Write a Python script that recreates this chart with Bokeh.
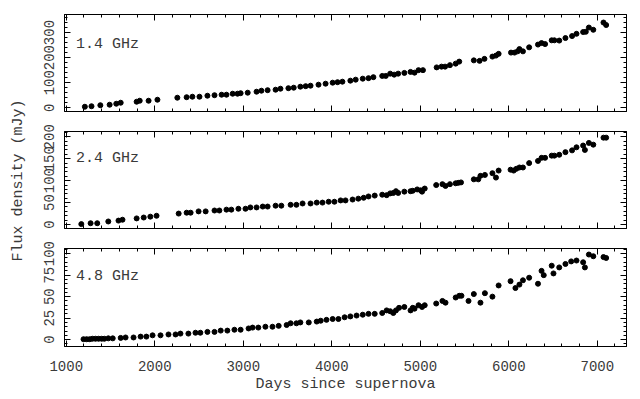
import math
from bokeh.plotting import figure
from bokeh.layouts import column, row
from bokeh.models import Range1d, LinearAxis, SingleIntervalTicker, Label
from bokeh.embed import file_html
from bokeh.resources import INLINE

# ---- data (days since supernova, flux density in mJy) ----
days_14 = [1210, 1285, 1385, 1490, 1565, 1615, 1795, 1830, 1930, 2030,
           2255, 2360, 2425, 2505, 2595, 2675, 2755, 2810, 2880, 2935,
           2970, 3050, 3150, 3205, 3275, 3365, 3420, 3510, 3570, 3645,
           3705, 3760, 3850, 3930, 4010, 4065, 4120, 4210, 4270, 4350,
           4415, 4470, 4570, 4610, 4660, 4705, 4750, 4820, 4890, 4935,
           4980, 5030, 5185, 5240, 5280, 5335, 5400, 5440, 5605, 5670,
           5725, 5815, 5855, 5885, 6025, 6065, 6100, 6120, 6160, 6230,
           6330, 6370, 6410, 6485, 6515, 6570, 6640, 6715, 6765, 6840,
           6870, 6905, 6955, 7070, 7100]
flux_14 = [4, 6, 10, 12, 16, 20, 24, 28, 28, 32,
           40, 42, 44, 44, 48, 50, 52, 52, 56, 56,
           58, 60, 64, 68, 70, 72, 76, 78, 80, 84,
           86, 88, 92, 96, 100, 102, 104, 108, 112, 116,
           118, 122, 127, 127, 136, 132, 136, 139, 143, 140,
           150, 150, 161, 164, 164, 170, 176, 184, 189, 187,
           195, 204, 208, 215, 220, 220, 225, 234, 225, 241,
           252, 258, 254, 269, 269, 268, 278, 286, 295, 302,
           303, 320, 311, 340, 330]

days_24 = [1170, 1275, 1350, 1475, 1590, 1635, 1795, 1875, 1950, 2020,
           2270, 2360, 2405, 2495, 2575, 2675, 2730, 2810, 2865, 2945,
           3025, 3080, 3150, 3220, 3275, 3365, 3430, 3535, 3600, 3670,
           3760, 3830, 3895, 3965, 4030, 4100, 4155, 4235, 4300, 4360,
           4415, 4485, 4570, 4620, 4660, 4695, 4725, 4750, 4820, 4890,
           4915, 4965, 5005, 5020, 5050, 5180, 5250, 5285, 5335, 5400,
           5430, 5460, 5605, 5655, 5680, 5730, 5815, 5855, 5885, 6020,
           6055, 6085, 6120, 6160, 6230, 6330, 6370, 6410, 6485, 6515,
           6570, 6640, 6715, 6765, 6840, 6860, 6905, 6955, 7070, 7100]
flux_24 = [1, 3, 3, 7, 9, 11, 14, 16, 18, 20,
           25, 27, 27, 30, 30, 32, 32, 34, 34, 36,
           36, 39, 39, 41, 41, 43, 43, 45, 45, 48,
           48, 50, 50, 52, 52, 55, 55, 57, 59, 61,
           64, 66, 68, 67, 71, 72, 76, 72, 75, 76,
           77, 80, 78, 75, 82, 90, 92, 88, 92, 94,
           95, 96, 103, 103, 111, 113, 117, 107, 123, 125,
           123, 127, 130, 130, 140, 145, 152, 152, 157, 157,
           159, 165, 169, 176, 180, 170, 186, 182, 198, 198]

days_48 = [1195, 1230, 1265, 1295, 1330, 1365, 1400, 1430, 1475, 1525,
           1615, 1670, 1760, 1840, 1905, 1975, 2065, 2155, 2235, 2290,
           2380, 2460, 2515, 2595, 2675, 2745, 2820, 2900, 2970, 3060,
           3105, 3170, 3250, 3330, 3400, 3490, 3535, 3600, 3645, 3740,
           3830, 3875, 3940, 4010, 4075, 4145, 4210, 4280, 4350, 4415,
           4485, 4570, 4620, 4660, 4695, 4725, 4760, 4820, 4890, 4915,
           4935, 4980, 5020, 5050, 5180, 5250, 5285, 5400, 5440, 5465,
           5545, 5605, 5680, 5730, 5815, 5885, 6020, 6075, 6120, 6160,
           6230, 6330, 6370, 6395, 6485, 6505, 6570, 6640, 6705, 6765,
           6840, 6860, 6905, 6955, 7070, 7100]
flux_48 = [0.5, 0.5, 0.5, 1, 1, 1, 1, 1, 1.5, 1.5,
           2, 2.5, 2.5, 3.5, 3.5, 5, 5, 6, 6, 7,
           7, 8, 8, 9, 9, 10.5, 10.5, 11.5, 11.5, 13,
           14, 14, 15, 15, 16, 17, 19, 19, 20, 20,
           21, 22, 23, 24, 24, 26, 27, 28, 29, 30,
           30, 31, 34, 33, 31, 34, 37, 38, 34, 37,
           36, 40, 38, 40, 42, 45, 43, 49, 51, 51,
           45, 53, 43, 54, 50, 63, 68, 60, 64, 69,
           72, 65, 80, 75, 86, 77, 84, 88, 91, 92,
           90, 84, 99, 97, 96, 95]

panel_names = ["1.4 GHz", "2.4 GHz", "4.8 GHz"]
y_ticks_step = [100, 50, 25]
y_limits = [(-15, 372), (-9, 212), (-8, 106)]
label_y = [252, 150, 74]
x_title = "Days since supernova"
y_title = "Flux density (mJy)"

FONT = "Liberation Mono"
TXT = "#3a3a3a"


def style_axis(ax, show_labels, step):
    ax.axis_line_color = "black"
    ax.major_tick_line_color = "black"
    ax.minor_tick_line_color = "black"
    ax.major_tick_in = 6
    ax.major_tick_out = 0
    ax.minor_tick_in = 3
    ax.minor_tick_out = 0
    ax.ticker = SingleIntervalTicker(interval=step, num_minor_ticks=5)
    ax.major_label_text_font = FONT
    if show_labels:
        ax.major_label_text_font_size = "14px"
        ax.major_label_text_color = TXT
    else:
        ax.major_label_text_font_size = "1px"
        ax.major_label_text_color = None
        ax.major_label_text_alpha = 0
        ax.major_label_standoff = 0


def make_panel(i, xs, ys, bottom_labels):
    h = 97 if i < 2 else 98
    p = figure(frame_width=562, frame_height=h,
               x_range=Range1d(980, 7330), y_range=Range1d(*y_limits[i]),
               output_backend="svg", toolbar_location=None,
               x_axis_location=None, y_axis_location=None,
               min_border_left=30, min_border_right=12,
               min_border_top=14 if i == 0 else 10,
               min_border_bottom=52 if bottom_labels else 10)
    p.grid.visible = False
    p.outline_line_color = "black"
    p.outline_line_width = 1
    p.background_fill_color = "white"
    p.border_fill_color = "white"

    xb = LinearAxis()
    style_axis(xb, bottom_labels, 1000)
    if bottom_labels:
        xb.major_label_standoff = 14
        xb.axis_label = x_title
        xb.axis_label_text_font = FONT
        xb.axis_label_text_font_size = "15px"
        xb.axis_label_text_font_style = "normal"
        xb.axis_label_text_color = TXT
        xb.axis_label_standoff = 2
    p.add_layout(xb, "below")

    xt = LinearAxis()
    style_axis(xt, False, 1000)
    p.add_layout(xt, "above")

    yl = LinearAxis()
    style_axis(yl, True, y_ticks_step[i])
    yl.major_label_orientation = "vertical"
    yl.major_label_standoff = 10
    p.add_layout(yl, "left")

    yr = LinearAxis()
    style_axis(yr, False, y_ticks_step[i])
    p.add_layout(yr, "right")

    p.scatter(xs, ys, size=5, marker="circle", color="black")

    p.add_layout(Label(x=1110, y=label_y[i], text=panel_names[i],
                       text_font=FONT, text_font_size="15px",
                       text_color=TXT, text_baseline="middle"))
    return p


# narrow strip carrying the shared y-axis title
side = figure(frame_width=34, frame_height=360,
              x_range=Range1d(0, 1), y_range=Range1d(0, 1),
              output_backend="svg", toolbar_location=None,
              x_axis_location=None, y_axis_location=None,
              min_border=0)
side.grid.visible = False
side.outline_line_color = None
side.border_fill_color = "white"
side.add_layout(Label(x=0.53, y=0.5, text=y_title, angle=math.pi / 2,
                      text_font=FONT, text_font_size="15px",
                      text_color=TXT, text_align="center",
                      text_baseline="middle"))

p1 = make_panel(0, days_14, flux_14, False)
p2 = make_panel(1, days_24, flux_24, False)
p3 = make_panel(2, days_48, flux_48, True)

layout = row(side, column(p1, p2, p3, spacing=0), spacing=0)

open("out.html", "w").write(file_html(layout, INLINE))
